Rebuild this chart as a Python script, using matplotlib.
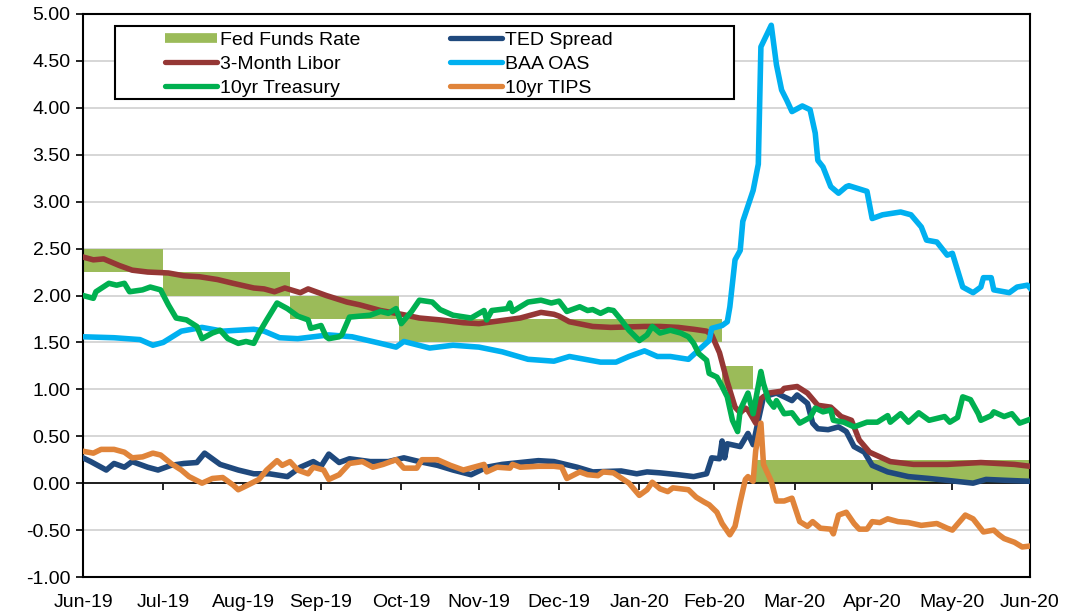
import numpy as np
import pandas as pd
import matplotlib
matplotlib.use("Agg")
import matplotlib.pyplot as plt
from matplotlib.lines import Line2D
from matplotlib.patches import Rectangle

plt.rcParams['font.family'] = ['Liberation Sans', 'DejaVu Sans']

# Fed funds target range (lower bound, step changes)
ff_dates = ['2019-06-30', '2019-07-31', '2019-09-18', '2019-10-30', '2020-03-03', '2020-03-15', '2020-06-30']
ff_lower = [2.25, 2.00, 1.75, 1.50, 1.00, 0.00, 0.00]
ff_upper = [2.50, 2.25, 2.00, 1.75, 1.25, 0.25, 0.25]

baa_dates = ['2019-06-30', '2019-07-12', '2019-07-22', '2019-07-27', '2019-07-31', '2019-08-07', '2019-08-15',
             '2019-08-23', '2019-09-04', '2019-09-08', '2019-09-14', '2019-09-21', '2019-09-27', '2019-10-03',
             '2019-10-12', '2019-10-23', '2019-10-29', '2019-11-01', '2019-11-11', '2019-11-20', '2019-11-30',
             '2019-12-09', '2019-12-19', '2019-12-29', '2020-01-04', '2020-01-08', '2020-01-16', '2020-01-22',
             '2020-01-27', '2020-02-02', '2020-02-07', '2020-02-12', '2020-02-19', '2020-02-23', '2020-02-27',
             '2020-02-28', '2020-03-03', '2020-03-05', '2020-03-06', '2020-03-08', '2020-03-10', '2020-03-11',
             '2020-03-15', '2020-03-17', '2020-03-18', '2020-03-22', '2020-03-24', '2020-03-26', '2020-03-28',
             '2020-03-30', '2020-04-03', '2020-04-06', '2020-04-08', '2020-04-09', '2020-04-11', '2020-04-14',
             '2020-04-17', '2020-04-20', '2020-04-21', '2020-04-28', '2020-04-30', '2020-05-04', '2020-05-11',
             '2020-05-15', '2020-05-19', '2020-05-21', '2020-05-25', '2020-05-29', '2020-05-31', '2020-06-04',
             '2020-06-08', '2020-06-11', '2020-06-12', '2020-06-15', '2020-06-16', '2020-06-22', '2020-06-25',
             '2020-06-29', '2020-06-30']
baa_vals = [1.56, 1.55, 1.53, 1.47, 1.50, 1.62, 1.66,
            1.62, 1.64, 1.62, 1.55, 1.54, 1.56, 1.58,
            1.56, 1.49, 1.45, 1.51, 1.44, 1.47, 1.45,
            1.40, 1.32, 1.30, 1.35, 1.33, 1.29, 1.29,
            1.35, 1.41, 1.35, 1.35, 1.32, 1.42, 1.52,
            1.65, 1.68, 1.72, 1.88, 2.38, 2.48, 2.79,
            3.12, 3.40, 4.65, 4.88, 4.46, 4.19, 4.08,
            3.96, 4.02, 3.98, 3.73, 3.44, 3.37, 3.16,
            3.09, 3.16, 3.17, 3.11, 2.82, 2.86, 2.89,
            2.86, 2.73, 2.59, 2.57, 2.43, 2.45, 2.09,
            2.03, 2.09, 2.19, 2.19, 2.06, 2.03, 2.09,
            2.11, 2.08]

libor_dates = ['2019-06-30', '2019-07-04', '2019-07-08', '2019-07-14', '2019-07-19', '2019-07-25', '2019-08-02',
               '2019-08-08', '2019-08-14', '2019-08-21', '2019-08-27', '2019-09-04', '2019-09-08', '2019-09-12',
               '2019-09-16', '2019-09-22', '2019-09-25', '2019-10-02', '2019-10-10', '2019-10-15', '2019-10-23',
               '2019-10-31', '2019-11-07', '2019-11-15', '2019-11-24', '2019-11-30', '2019-12-08', '2019-12-16',
               '2019-12-24', '2019-12-29', '2019-12-31', '2020-01-04', '2020-01-13', '2020-01-20', '2020-02-02',
               '2020-02-08', '2020-02-15', '2020-02-21', '2020-02-26', '2020-02-28', '2020-03-02', '2020-03-05',
               '2020-03-08', '2020-03-10', '2020-03-12', '2020-03-13', '2020-03-16', '2020-03-18', '2020-03-21',
               '2020-03-26', '2020-03-27', '2020-04-01', '2020-04-05', '2020-04-09', '2020-04-14', '2020-04-18',
               '2020-04-22', '2020-04-25', '2020-04-29', '2020-05-03', '2020-05-07', '2020-05-16', '2020-05-29',
               '2020-06-11', '2020-06-24', '2020-06-30']
libor_vals = [2.41, 2.38, 2.39, 2.32, 2.27, 2.25, 2.24,
              2.21, 2.20, 2.17, 2.13, 2.08, 2.07, 2.04,
              2.08, 2.03, 2.07, 2.00, 1.93, 1.90, 1.84,
              1.80, 1.76, 1.74, 1.71, 1.70, 1.73, 1.76,
              1.82, 1.80, 1.78, 1.72, 1.67, 1.66, 1.67,
              1.67, 1.66, 1.64, 1.62, 1.58, 1.39, 1.08,
              0.81, 0.75, 0.80, 0.78, 0.64, 0.90, 0.96,
              0.98, 1.01, 1.03, 0.96, 0.83, 0.81, 0.71,
              0.67, 0.46, 0.33, 0.28, 0.23, 0.20, 0.20,
              0.22, 0.20, 0.18]

ted_dates = ['2019-06-30', '2019-07-03', '2019-07-09', '2019-07-12', '2019-07-16', '2019-07-19', '2019-07-25',
             '2019-07-29', '2019-08-03', '2019-08-08', '2019-08-13', '2019-08-16', '2019-08-22', '2019-08-29',
             '2019-09-04', '2019-09-10', '2019-09-17', '2019-09-22', '2019-09-27', '2019-09-30', '2019-10-03',
             '2019-10-07', '2019-10-11', '2019-10-19', '2019-10-26', '2019-11-01', '2019-11-07', '2019-11-14',
             '2019-11-20', '2019-11-27', '2019-12-03', '2019-12-09', '2019-12-16', '2019-12-23', '2019-12-29',
             '2020-01-07', '2020-01-13', '2020-01-24', '2020-01-30', '2020-02-03', '2020-02-08', '2020-02-15',
             '2020-02-21', '2020-02-26', '2020-02-28', '2020-03-02', '2020-03-03', '2020-03-04', '2020-03-05',
             '2020-03-10', '2020-03-13', '2020-03-15', '2020-03-17', '2020-03-19', '2020-03-24', '2020-03-27',
             '2020-03-30', '2020-04-01', '2020-04-05', '2020-04-07', '2020-04-09', '2020-04-13', '2020-04-17',
             '2020-04-20', '2020-04-23', '2020-04-27', '2020-04-30', '2020-05-06', '2020-05-14', '2020-05-22',
             '2020-05-29', '2020-06-08', '2020-06-13', '2020-06-21', '2020-06-30']
ted_vals = [0.27, 0.23, 0.14, 0.21, 0.17, 0.23, 0.17,
            0.14, 0.19, 0.21, 0.22, 0.32, 0.20, 0.14,
            0.10, 0.10, 0.07, 0.17, 0.23, 0.18, 0.31,
            0.22, 0.26, 0.23, 0.23, 0.27, 0.23, 0.19,
            0.14, 0.09, 0.17, 0.20, 0.22, 0.24, 0.23,
            0.17, 0.12, 0.13, 0.10, 0.12, 0.11, 0.09,
            0.07, 0.10, 0.27, 0.26, 0.45, 0.27, 0.42,
            0.39, 0.53, 0.41, 0.67, 0.92, 0.96, 0.92,
            0.88, 0.94, 0.85, 0.64, 0.58, 0.57, 0.60,
            0.55, 0.39, 0.33, 0.19, 0.12, 0.07, 0.05,
            0.03, 0.00, 0.04, 0.03, 0.02]

tsy_dates = ['2019-06-30', '2019-07-04', '2019-07-05', '2019-07-10', '2019-07-13', '2019-07-16', '2019-07-18',
             '2019-07-23', '2019-07-26', '2019-07-30', '2019-08-02', '2019-08-05', '2019-08-09', '2019-08-13',
             '2019-08-15', '2019-08-19', '2019-08-22', '2019-08-25', '2019-08-29', '2019-09-01', '2019-09-04',
             '2019-09-06', '2019-09-09', '2019-09-13', '2019-09-17', '2019-09-21', '2019-09-25', '2019-09-26',
             '2019-09-30', '2019-10-02', '2019-10-03', '2019-10-07', '2019-10-08', '2019-10-11', '2019-10-19',
             '2019-10-23', '2019-10-26', '2019-10-29', '2019-10-31', '2019-11-04', '2019-11-07', '2019-11-12',
             '2019-11-15', '2019-11-20', '2019-11-27', '2019-12-02', '2019-12-03', '2019-12-05', '2019-12-11',
             '2019-12-12', '2019-12-13', '2019-12-19', '2019-12-24', '2019-12-28', '2019-12-31', '2020-01-03',
             '2020-01-08', '2020-01-11', '2020-01-13', '2020-01-16', '2020-01-19', '2020-01-21', '2020-01-24',
             '2020-01-27', '2020-01-31', '2020-02-03', '2020-02-05', '2020-02-08', '2020-02-12', '2020-02-16',
             '2020-02-19', '2020-02-21', '2020-02-23', '2020-02-26', '2020-02-27', '2020-03-01', '2020-03-03',
             '2020-03-05', '2020-03-07', '2020-03-09', '2020-03-10', '2020-03-13', '2020-03-15', '2020-03-18',
             '2020-03-19', '2020-03-21', '2020-03-23', '2020-03-24', '2020-03-27', '2020-03-30', '2020-04-02',
             '2020-04-06', '2020-04-08', '2020-04-11', '2020-04-14', '2020-04-15', '2020-04-19', '2020-04-23',
             '2020-04-28', '2020-05-02', '2020-05-06', '2020-05-07', '2020-05-11', '2020-05-14', '2020-05-18',
             '2020-05-22', '2020-05-28', '2020-05-30', '2020-06-02', '2020-06-04', '2020-06-07', '2020-06-10',
             '2020-06-11', '2020-06-15', '2020-06-16', '2020-06-20', '2020-06-23', '2020-06-26', '2020-06-30']
tsy_vals = [2.00, 1.97, 2.04, 2.13, 2.11, 2.13, 2.04,
            2.06, 2.09, 2.06, 1.90, 1.76, 1.74, 1.67,
            1.54, 1.60, 1.63, 1.54, 1.49, 1.51, 1.49,
            1.60, 1.74, 1.92, 1.86, 1.78, 1.74, 1.65,
            1.68, 1.56, 1.54, 1.56, 1.58, 1.77, 1.79,
            1.83, 1.81, 1.86, 1.70, 1.83, 1.95, 1.93,
            1.85, 1.79, 1.76, 1.84, 1.74, 1.84, 1.86,
            1.92, 1.83, 1.93, 1.95, 1.92, 1.94, 1.83,
            1.88, 1.84, 1.85, 1.81, 1.85, 1.84, 1.74,
            1.63, 1.52, 1.58, 1.67, 1.60, 1.63, 1.60,
            1.56, 1.49, 1.38, 1.31, 1.17, 1.13, 1.03,
            0.92, 0.67, 0.55, 0.78, 0.96, 0.74, 1.19,
            1.06, 0.88, 0.81, 0.88, 0.74, 0.75, 0.64,
            0.70, 0.80, 0.76, 0.78, 0.67, 0.65, 0.60,
            0.65, 0.65, 0.72, 0.65, 0.74, 0.65, 0.75,
            0.67, 0.71, 0.65, 0.70, 0.92, 0.89, 0.74,
            0.67, 0.72, 0.76, 0.71, 0.74, 0.64, 0.68]

tips_dates = ['2019-06-30', '2019-07-04', '2019-07-07', '2019-07-12', '2019-07-16', '2019-07-19', '2019-07-23',
              '2019-07-27', '2019-07-30', '2019-08-03', '2019-08-07', '2019-08-10', '2019-08-15', '2019-08-19',
              '2019-08-23', '2019-08-27', '2019-08-29', '2019-09-01', '2019-09-06', '2019-09-09', '2019-09-13',
              '2019-09-15', '2019-09-18', '2019-09-21', '2019-09-25', '2019-09-27', '2019-10-01', '2019-10-03',
              '2019-10-07', '2019-10-11', '2019-10-16', '2019-10-20', '2019-10-24', '2019-10-29', '2019-11-01',
              '2019-11-06', '2019-11-08', '2019-11-14', '2019-11-19', '2019-11-24', '2019-11-28', '2019-12-02',
              '2019-12-03', '2019-12-07', '2019-12-12', '2019-12-13', '2019-12-16', '2019-12-23', '2019-12-29',
              '2020-01-01', '2020-01-03', '2020-01-08', '2020-01-11', '2020-01-15', '2020-01-17', '2020-01-21',
              '2020-01-27', '2020-01-31', '2020-02-03', '2020-02-05', '2020-02-08', '2020-02-11', '2020-02-13',
              '2020-02-19', '2020-02-22', '2020-02-25', '2020-02-27', '2020-03-01', '2020-03-03', '2020-03-06',
              '2020-03-08', '2020-03-10', '2020-03-12', '2020-03-13', '2020-03-15', '2020-03-16', '2020-03-18',
              '2020-03-19', '2020-03-22', '2020-03-24', '2020-03-27', '2020-03-30', '2020-04-02', '2020-04-05',
              '2020-04-07', '2020-04-10', '2020-04-14', '2020-04-15', '2020-04-17', '2020-04-20', '2020-04-23',
              '2020-04-25', '2020-04-28', '2020-04-30', '2020-05-03', '2020-05-06', '2020-05-10', '2020-05-14',
              '2020-05-19', '2020-05-25', '2020-05-29', '2020-05-31', '2020-06-05', '2020-06-08', '2020-06-12',
              '2020-06-16', '2020-06-18', '2020-06-20', '2020-06-24', '2020-06-27', '2020-06-30']
tips_vals = [0.34, 0.32, 0.36, 0.36, 0.33, 0.27, 0.28,
             0.32, 0.30, 0.21, 0.14, 0.07, 0.00, 0.05,
             0.06, -0.02, -0.07, -0.03, 0.04, 0.14, 0.24,
             0.19, 0.23, 0.14, 0.10, 0.17, 0.14, 0.04,
             0.09, 0.21, 0.23, 0.17, 0.20, 0.25, 0.16,
             0.16, 0.25, 0.25, 0.19, 0.14, 0.17, 0.20,
             0.12, 0.17, 0.16, 0.20, 0.17, 0.18, 0.18,
             0.17, 0.05, 0.12, 0.09, 0.08, 0.12, 0.11,
             0.00, -0.13, -0.07, 0.01, -0.06, -0.09, -0.05,
             -0.07, -0.15, -0.20, -0.23, -0.31, -0.43, -0.55,
             -0.46, -0.20, 0.04, 0.07, 0.02, 0.35, 0.64,
             0.20, 0.02, -0.19, -0.19, -0.16, -0.41, -0.46,
             -0.41, -0.48, -0.49, -0.54, -0.34, -0.31, -0.43,
             -0.49, -0.49, -0.41, -0.42, -0.38, -0.41, -0.42,
             -0.45, -0.43, -0.48, -0.50, -0.34, -0.38, -0.52,
             -0.50, -0.55, -0.59, -0.63, -0.68, -0.67]

c_ff = '#9BBB59'
c_libor = '#953735'
c_tsy = '#00B050'
c_ted = '#1F497D'
c_baa = '#00B0F0'
c_tips = '#E0843A'
lw = 4.0

fig = plt.figure(figsize=(10.66, 6.13), dpi=100)
ax = fig.add_axes([83 / 1066, 36 / 613, 947 / 1066, 563 / 613])

ax.fill_between(pd.to_datetime(ff_dates), ff_lower, ff_upper, step='post', color=c_ff, lw=0, zorder=2)
ax.plot(pd.to_datetime(ted_dates), ted_vals, color=c_ted, lw=lw, solid_joinstyle='round', zorder=3)
ax.plot(pd.to_datetime(libor_dates), libor_vals, color=c_libor, lw=lw, solid_joinstyle='round', zorder=3)
ax.plot(pd.to_datetime(baa_dates), baa_vals, color=c_baa, lw=lw, solid_joinstyle='round', zorder=3)
ax.plot(pd.to_datetime(tsy_dates), tsy_vals, color=c_tsy, lw=lw, solid_joinstyle='round', zorder=3)
ax.plot(pd.to_datetime(tips_dates), tips_vals, color=c_tips, lw=lw, solid_joinstyle='round', zorder=3)

ax.axhline(0, color='black', lw=1.2, zorder=2.5)

ax.set_xlim(pd.Timestamp('2019-06-30'), pd.Timestamp('2020-06-30'))
ax.set_ylim(-1, 5)
ax.set_yticks(np.arange(-1, 5.01, 0.5))
ax.set_yticklabels([f'{v:.2f}' for v in np.arange(-1, 5.01, 0.5)])
ax.yaxis.grid(True, color='#D0D0D0', lw=1.2)
ax.set_axisbelow(True)

month_ends = pd.date_range('2019-06-30', '2020-06-30', freq='ME')
ax.set_xticks(month_ends)
ax.set_xticklabels([d.strftime('%b-%y') for d in month_ends])
ax.tick_params(axis='x', length=0, pad=12, labelsize=14)
ax.tick_params(axis='y', length=5, width=1.2, direction='out', pad=4, labelsize=14)

for s in ax.spines.values():
    s.set_color('black')
    s.set_linewidth(1.5)

# tick marks along the zero line
sec = ax.secondary_xaxis(1 / 6)
sec.set_xticks(month_ends)
sec.set_xticklabels([])
sec.tick_params(axis='x', length=5, width=1.2, direction='out', color='black')
sec.spines['bottom'].set_visible(False)

# legend box
ax.add_patch(Rectangle((0.0338, 0.849), 0.654, 0.130, transform=ax.transAxes,
                       facecolor='white', edgecolor='black', lw=1.5, zorder=5))
handles = [
    Line2D([], [], color=c_ff, lw=7, solid_capstyle='butt'),
    Line2D([], [], color=c_libor, lw=3.8, solid_capstyle='round'),
    Line2D([], [], color=c_tsy, lw=3.8, solid_capstyle='round'),
    Line2D([], [], color=c_ted, lw=3.8, solid_capstyle='round'),
    Line2D([], [], color=c_baa, lw=3.8, solid_capstyle='round'),
    Line2D([], [], color=c_tips, lw=3.8, solid_capstyle='round'),
]
labels = ['Fed Funds Rate', '3-Month Libor', '10yr Treasury', 'TED Spread', 'BAA OAS', '10yr TIPS']
leg = ax.legend(handles, labels, ncol=2, loc='upper left', bbox_to_anchor=(0.076, 0.986),
                frameon=False, fontsize=14, borderpad=0, handlelength=2.7, handletextpad=0.15,
                columnspacing=4.6, labelspacing=0.32)
leg.set_zorder(6)

fig.savefig('out.png', dpi=100)
